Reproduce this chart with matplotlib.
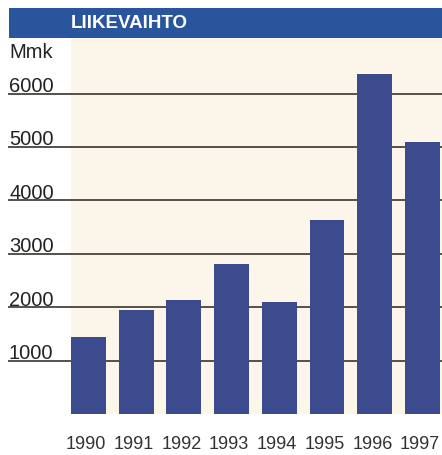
import matplotlib.pyplot as plt
from matplotlib.patches import Rectangle
from matplotlib.transforms import blended_transform_factory

plt.rcParams['font.family'] = ['Liberation Sans', 'DejaVu Sans']

years = ['1990', '1991', '1992', '1993', '1994', '1995', '1996', '1997']
liikevaihto = [1440, 1950, 2130, 2810, 2100, 3630, 6370, 5090]
y_ticks = [1000, 2000, 3000, 4000, 5000, 6000]

W, H = 442, 455
fig = plt.figure(figsize=(W / 100, H / 100), dpi=100)

# plot area: cream background from x=71 to the right edge, y=38..414 px
ax = fig.add_axes([71 / W, (H - 414) / H, (W - 71) / W, 376 / H])
ax.set_facecolor('#FCF5EA')
ax.set_xlim(-0.365, 7.41)
ax.set_ylim(0, 7040)

x = list(range(len(years)))
ax.bar(x, liikevaihto, width=0.73, color='#3C4A8E', zorder=3)

# gridlines reach out into the white label area on the left
for v in y_ticks:
    ax.axhline(v, xmin=(9 - 71) / (W - 71), xmax=1, color='#555049',
               linewidth=1.4, clip_on=False, zorder=2)

tr = blended_transform_factory(fig.transFigure, ax.transData)
for v in y_ticks:
    ax.text(9 / W, v + 30, str(v), transform=tr, ha='left', va='baseline',
            fontsize=14.5, color='#222222')
ax.text(9 / W, 6670, 'Mmk', transform=tr, ha='left', va='baseline',
        fontsize=14.5, color='#222222')

ax.set_xticks([i - 0.05 for i in x])
ax.set_xticklabels(years, fontsize=13, color='#333333')
ax.tick_params(axis='x', length=0, pad=16)
ax.set_yticks([])
for s in ax.spines.values():
    s.set_visible(False)

# header band
fig.patches.append(Rectangle((9 / W, (H - 38) / H), (W - 9) / W, 30 / H,
                             transform=fig.transFigure, facecolor='#28559B',
                             edgecolor='none'))
fig.text(71 / W, (H - 23) / H, 'LIIKEVAIHTO', ha='left', va='center',
         fontsize=13.5, fontweight='bold', color='white')

fig.savefig('out.png', dpi=100)
